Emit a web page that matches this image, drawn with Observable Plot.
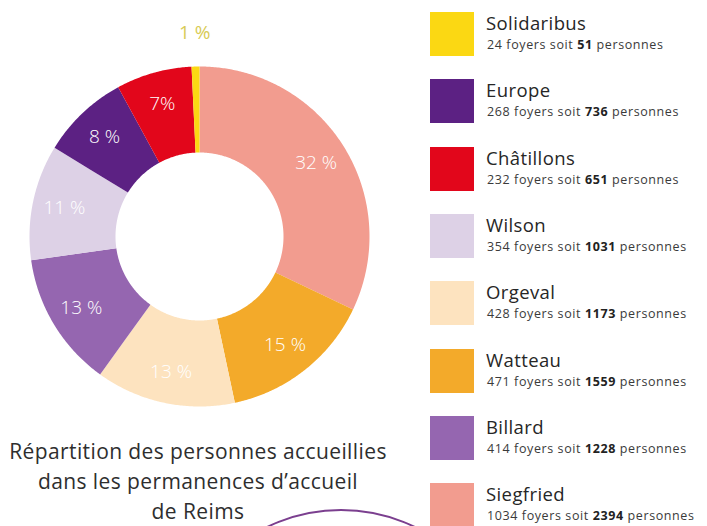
<!DOCTYPE html>
<html><head><meta charset="utf-8">
<script src="https://cdn.jsdelivr.net/npm/d3@7"></script>
<script src="https://cdn.jsdelivr.net/npm/@observablehq/plot@0.6"></script>
<style>
body{margin:0;background:#fff;width:707px;height:526px;overflow:hidden;position:relative;font-family:"Open Sans",sans-serif;}
#chart{position:absolute;left:0;top:0;}
#legend{position:absolute;left:430px;top:12px;}
.row{position:absolute;left:0;width:277px;height:44px;}
.sw{position:absolute;left:0;top:0;width:44px;height:44px;}
.nm{position:absolute;left:56px;top:0px;font-size:18.5px;letter-spacing:0.4px;line-height:22px;color:#262626;white-space:nowrap;}
.dt{position:absolute;left:57px;top:26px;font-size:12.5px;letter-spacing:0.6px;line-height:14px;color:#3a3a3a;white-space:nowrap;}
.dt b{font-weight:bold;color:#222;}
#caption{position:absolute;left:0;width:396px;top:436px;text-align:center;font-size:21px;letter-spacing:0.4px;line-height:30px;color:#2e2e2e;}
#deco{position:absolute;left:171px;top:509px;width:340px;height:340px;border:2.5px solid #7b3f8f;border-radius:50%;box-sizing:border-box;}
</style>
</head><body>
<div id="chart"></div>
<div id="caption">Répartition des personnes accueillies<br>dans les permanences d’accueil<br>de Reims</div>
<div id="deco"></div>
<div id="legend"></div>
<script>
// Data (legend order, top to bottom)
const names = ["Solidaribus","Europe","Châtillons","Wilson","Orgeval","Watteau","Billard","Siegfried"];
const foyers = [24, 268, 232, 354, 428, 471, 414, 1034];
const personnes = [51, 736, 651, 1031, 1173, 1559, 1228, 2394];
const pctLabels = ["1 %","8 %","7%","11 %","13 %","15 %","13 %","32 %"];
const colors = ["#fbd813","#5c2183","#e2061b","#ddd1e6","#fde3bf","#f3aa2a","#9566b0","#f29c8f"];
// Order of the slices, clockwise from 12 o'clock
const pieOrder = ["Siegfried","Watteau","Orgeval","Billard","Wilson","Europe","Châtillons","Solidaribus"];

// Donut geometry in an azimuthal projection centred on the pole
const outerR = 60, innerR = 60 * 84 / 170;
const total = d3.sum(foyers);
let acc = 0;
const slices = pieOrder.map(nm => {
  const i = names.indexOf(nm);
  const a0 = acc / total * 360; acc += foyers[i]; const a1 = acc / total * 360;
  const share = foyers[i] / total;
  const L0 = 180 - a1, L1 = 180 - a0;
  const latI = 90 - innerR, latO = 90 - outerR;
  const n = Math.max(2, Math.ceil((L1 - L0) / 0.5));
  const north = d3.range(n + 1).map(k => [L0 + (L1 - L0) * k / n, latI]);
  const south = d3.range(n + 1).map(k => [L1 - (L1 - L0) * k / n, latO]);
  const am = (a0 + a1) / 2;
  const small = share < 0.02;
  const r = small ? 60 * 204 / 170 : 60 * 138 / 170;
  return {name: nm, label: pctLabels[i], small,
    geom: {type: "Polygon", coordinates: [[...north, ...south, north[0]]]},
    lon: 180 - am, lat: 90 - r};
});

const chart = Plot.plot({
  width: 400, height: 420,
  marginLeft: 29, marginRight: 31, marginTop: 66, marginBottom: 14,
  projection: {type: "azimuthal-equidistant", rotate: [0, -90],
    domain: d3.geoCircle().center([0, 90]).radius(outerR)(), clip: false},
  color: {domain: names, range: colors},
  style: {fontFamily: "'Open Sans', sans-serif", background: "transparent"},
  marks: [
    Plot.geo(slices, {geometry: d => d.geom, fill: "name"}),
    Plot.text(slices.filter(d => !d.small), {x: "lon", y: "lat", text: "label", fill: "white", fontSize: 19, fontWeight: 300}),
    Plot.text(slices.filter(d => d.small), {x: "lon", y: "lat", text: "label", fill: "#d8cb55", fontSize: 19, fontWeight: 400})
  ]
});
document.getElementById("chart").appendChild(chart);

// Legend
const leg = document.getElementById("legend");
names.forEach((n, i) => {
  const row = document.createElement("div");
  row.className = "row";
  row.style.top = (i * 67.3) + "px";
  row.innerHTML = `<div class="sw" style="background:${colors[i]}"></div>` +
    `<div class="nm">${n}</div>` +
    `<div class="dt">${foyers[i]} foyers soit <b>${personnes[i]}</b> personnes</div>`;
  leg.appendChild(row);
});
</script>
</body></html>
